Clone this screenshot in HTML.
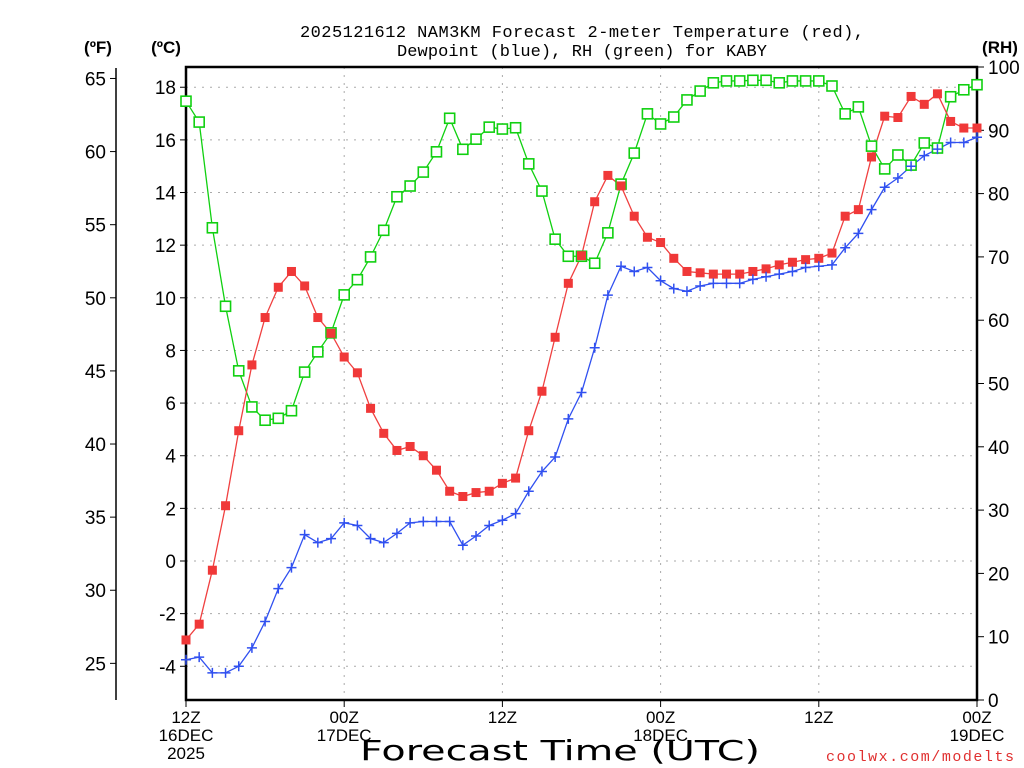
<!DOCTYPE html>
<html><head><meta charset="utf-8"><style>
body{margin:0;background:#fff}
svg{display:block;font-family:"Liberation Sans",sans-serif}
</style></head><body>
<svg id="c" width="1024" height="768" viewBox="0 0 1024 768">
<text x="582" y="37" font-size="17" text-anchor="middle" textLength="564" font-family="Liberation Mono, monospace">2025121612 NAM3KM Forecast 2-meter Temperature (red),</text>
<text x="582" y="56" font-size="17" text-anchor="middle" textLength="370" font-family="Liberation Mono, monospace">Dewpoint (blue), RH (green) for KABY</text>
<text x="98" y="53" font-size="17" font-weight="bold" text-anchor="middle">(ºF)</text>
<text x="166" y="53" font-size="17" font-weight="bold" text-anchor="middle">(ºC)</text>
<text x="1000" y="53" font-size="17" font-weight="bold" text-anchor="middle">(RH)</text>
<text x="560" y="760" font-size="28" text-anchor="middle" textLength="400" lengthAdjust="spacingAndGlyphs" font-family="DejaVu Sans, sans-serif">Forecast Time (UTC)</text>
<text x="1014" y="761" font-size="15" fill="#e03030" text-anchor="end" textLength="188" font-family="Liberation Mono, monospace">coolwx.com/modelts</text>
<g id="grid"></g><g id="axes"></g><g id="series"></g>
</svg>
<script>
const hours=[...Array(61).keys()];
const tempC=[-3.0,-2.4,-0.35,2.1,4.95,7.45,9.25,10.4,11.0,10.45,9.25,8.65,7.75,7.15,5.8,4.85,4.2,4.35,4.0,3.45,2.65,2.45,2.6,2.65,2.95,3.15,4.95,6.45,8.5,10.55,11.6,13.65,14.65,14.25,13.1,12.3,12.1,11.5,11.0,10.95,10.9,10.9,10.9,11.0,11.1,11.25,11.35,11.45,11.5,11.7,13.1,13.35,15.35,16.9,16.85,17.65,17.35,17.75,16.7,16.45,16.45];
const dewC=[-3.75,-3.65,-4.25,-4.25,-4.0,-3.3,-2.3,-1.05,-0.25,1.0,0.7,0.85,1.45,1.35,0.85,0.7,1.05,1.45,1.5,1.5,1.5,0.6,0.95,1.35,1.55,1.8,2.65,3.4,3.95,5.4,6.4,8.1,10.1,11.2,11.0,11.15,10.65,10.35,10.25,10.45,10.55,10.55,10.55,10.7,10.8,10.9,11.0,11.15,11.2,11.25,11.9,12.45,13.35,14.2,14.55,15.0,15.4,15.65,15.9,15.9,16.1];
const rh=[94.6,91.3,74.6,62.2,52.0,46.3,44.2,44.5,45.7,51.8,55.0,58.0,64.0,66.4,70.0,74.2,79.5,81.2,83.4,86.6,91.9,87.0,88.6,90.5,90.2,90.4,84.7,80.4,72.8,70.1,70.1,69.0,73.8,81.5,86.4,92.6,91.0,92.1,94.8,96.2,97.5,97.8,97.8,97.9,97.9,97.5,97.8,97.8,97.8,97.0,92.6,93.7,87.5,83.9,86.1,84.5,88.0,87.2,95.3,96.4,97.2];
const cTicks=[-4,-2,0,2,4,6,8,10,12,14,16,18];
const fTicks=[25,30,35,40,45,50,55,60,65];
const rhTicks=[0,10,20,30,40,50,60,70,80,90,100];
const xTickHours=[0,12,24,36,48,60];
const xTickLabels=[["12Z","16DEC","2025"],["00Z","17DEC"],["12Z"],["00Z","18DEC"],["12Z"],["00Z","19DEC"]];
const X0=186,X1=977,Y0=67,Y1=700;
const xs=h=>X0+(X1-X0)*h/60;
const yc=c=>561-c*26.32;
const yf=f=>yc((f-32)*5/9);
const yr=r=>Y1-(Y1-Y0)*r/100;
const NS="http://www.w3.org/2000/svg";
function mk(p,t,a){const e=document.createElementNS(NS,t);for(const k in a)e.setAttribute(k,a[k]);p.appendChild(e);return e;}
const G=document.getElementById('grid'),A=document.getElementById('axes'),S=document.getElementById('series');
cTicks.forEach(c=>{const l=mk(G,'line',{x1:X0,x2:X1,y1:yc(c),y2:yc(c),stroke:'#aaa','stroke-dasharray':'2 6'});

});
xTickHours.slice(1,-1).forEach(h=>{const l=mk(G,'line',{x1:xs(h),x2:xs(h),y1:Y0,y2:Y1,stroke:'#aaa','stroke-dasharray':'2 6'});

});
const fr=mk(A,'rect',{x:X0,y:Y0,width:X1-X0,height:Y1-Y0,fill:'none',stroke:'#000','stroke-width':2.5});


cTicks.forEach(c=>{mk(A,'line',{x1:X0-6,x2:X0,y1:yc(c),y2:yc(c),stroke:'#000'});
const t=mk(A,'text',{x:X0-10,y:yc(c)+7,'font-size':19,'text-anchor':'end'});t.textContent=c;

});
const fl=mk(A,'line',{x1:116,x2:116,y1:68,y2:700,stroke:'#000','stroke-width':1.5});


fTicks.forEach(f=>{mk(A,'line',{x1:110,x2:116,y1:yf(f),y2:yf(f),stroke:'#000'});
const t=mk(A,'text',{x:106,y:yf(f)+7,'font-size':19,'text-anchor':'end'});t.textContent=f;

});
rhTicks.forEach(r=>{mk(A,'line',{x1:X1,x2:X1+7,y1:yr(r),y2:yr(r),stroke:'#000'});
const t=mk(A,'text',{x:X1+11,y:yr(r)+7,'font-size':19});t.textContent=r;

});
xTickHours.forEach((h,i)=>{mk(A,'line',{x1:xs(h),x2:xs(h),y1:Y1,y2:Y1+7,stroke:'#000'});
xTickLabels[i].forEach((s,j)=>{const t=mk(A,'text',{x:xs(h),y:Y1+23+j*18,'font-size':17,'text-anchor':'middle'});t.textContent=s;

});});
function line(vals,fy,col,name){const p=mk(S,'polyline',{points:vals.map((v,i)=>xs(hours[i])+','+fy(v)).join(' '),fill:'none',stroke:col,'stroke-width':1.3});

}
line(rh,yr,'#10d010','rh-line');
line(tempC,yc,'#f04040','temperature-line');
line(dewC,yc,'#3050f0','dewpoint-line');
rh.forEach((v,i)=>{const m=mk(S,'rect',{x:xs(hours[i])-5,y:yr(v)-5,width:10,height:10,fill:'#fff',stroke:'#10d010','stroke-width':1.6});

});
tempC.forEach((v,i)=>{const m=mk(S,'rect',{x:xs(hours[i])-4.5,y:yc(v)-4.5,width:9,height:9,fill:'#f03838'});

});
dewC.forEach((v,i)=>{const x=xs(hours[i]),y=yc(v);const m=mk(S,'path',{d:`M${x-5},${y}H${x+5}M${x},${y-5}V${y+5}`,stroke:'#3050f0','stroke-width':1.5});

});
</script>
</body></html>
